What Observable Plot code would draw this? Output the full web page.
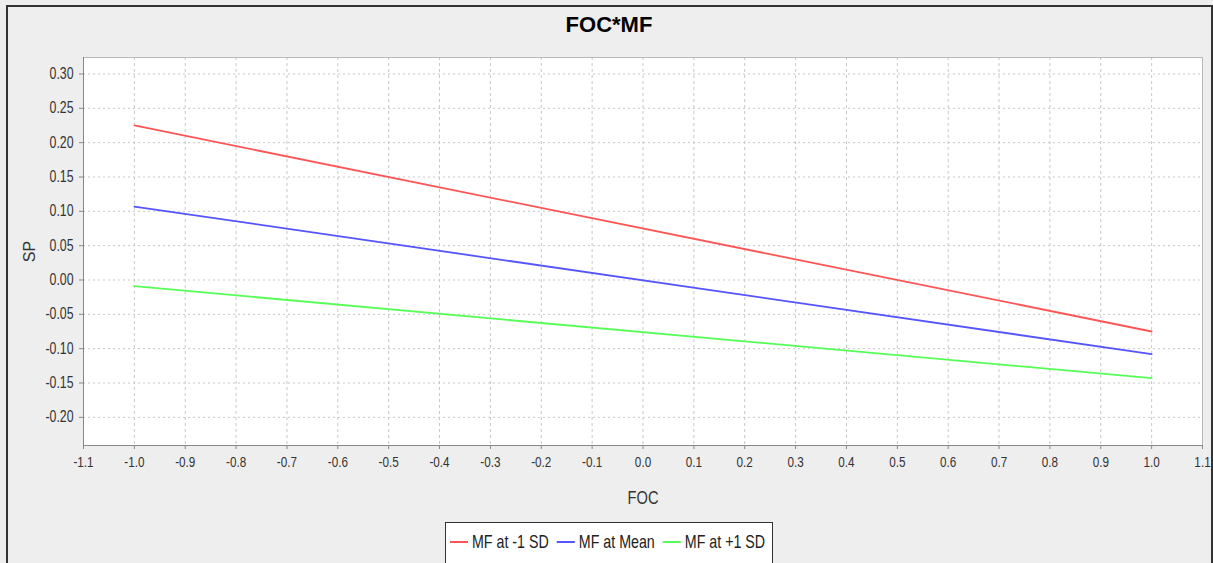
<!DOCTYPE html>
<html><head><meta charset="utf-8">
<script src="https://cdn.jsdelivr.net/npm/d3@7"></script>
<script src="https://cdn.jsdelivr.net/npm/@observablehq/plot@0.6"></script>
<style>
body{margin:0;background:#fff;}
#chart{position:relative;width:1213px;height:563px;background:#eeeeee;overflow:hidden;font-family:"Liberation Sans",Arial,sans-serif;}
#border{position:absolute;left:6px;top:5px;width:1207px;height:620px;box-sizing:border-box;border:2px solid #333;}
#title{position:absolute;left:0;top:14px;width:1218px;text-align:center;font:bold 22px "Liberation Sans",Arial,sans-serif;line-height:22px;color:#000;}
#plot{position:absolute;left:0;top:0;}
#legend{position:absolute;left:445px;top:522px;overflow:visible;}
</style>
</head><body>
<div id="chart">
  <div id="border"></div>
  <div id="title">FOC*MF</div>
  <div id="plot"></div>
  <svg id="legend" width="400" height="42"></svg>
</div>
<script>
// data
const foc = [-1.0, 1.0];
const seriesNames = ["MF at -1 SD", "MF at Mean", "MF at +1 SD"];
const spLow = [0.225, -0.075];
const spMean = [0.107, -0.108];
const spHigh = [-0.009, -0.143];
const seriesColors = ["#ff5555", "#5555ff", "#55ff55"];
const xTicks = [-1.1, -1.0, -0.9, -0.8, -0.7, -0.6, -0.5, -0.4, -0.3, -0.2, -0.1, 0.0, 0.1, 0.2, 0.3, 0.4, 0.5, 0.6, 0.7, 0.8, 0.9, 1.0, 1.1];
const yTicks = [-0.20, -0.15, -0.10, -0.05, 0.00, 0.05, 0.10, 0.15, 0.20, 0.25, 0.30];
const xDomain = [-1.1, 1.1];
const yDomain = [-0.241, 0.324];

const spBySeries = [spLow, spMean, spHigh];
const rows = seriesNames.flatMap((s, i) => foc.map((x, j) => ({series: s, foc: x, sp: spBySeries[i][j]})));

const SQUEEZE = 0.77;
function squeeze(el, k) {
  const L = el.getComputedTextLength();
  el.setAttribute("textLength", (L * k).toFixed(2));
  el.setAttribute("lengthAdjust", "spacingAndGlyphs");
}

const plot = Plot.plot({
  width: 1213, height: 510,
  marginLeft: 83, marginRight: 11, marginTop: 57, marginBottom: 65,
  style: {background: "transparent", fontFamily: '"Liberation Sans",Arial,sans-serif', fontSize: "16px", color: "#333", overflow: "visible"},
  x: {domain: xDomain},
  y: {domain: yDomain},
  color: {domain: seriesNames, range: seriesColors},
  marks: [
    Plot.frame({fill: "white", stroke: null}),
    Plot.gridX(xTicks, {stroke: "#c8c8c8", strokeOpacity: 1, strokeDasharray: "3,3"}),
    Plot.gridY(yTicks, {stroke: "#c8c8c8", strokeOpacity: 1, strokeDasharray: "2,3"}),
    Plot.line(rows, {x: "foc", y: "sp", z: "series", stroke: "series", strokeWidth: 1.8}),
    Plot.frame({stroke: "#b8b8b8"}),
    Plot.ruleX([xDomain[0]], {stroke: "#888"}),
    Plot.ruleY([yDomain[0]], {stroke: "#888"}),
    Plot.axisX(xTicks, {tickFormat: d => d.toFixed(1), tickSize: 4, tickPadding: 7, stroke: "#888", fill: "#333",
      label: "FOC", labelAnchor: "center", labelOffset: 58, labelArrow: "none"}),
    Plot.axisY(yTicks, {tickFormat: d => d.toFixed(2), tickSize: 4, tickPadding: 6, stroke: "#888", fill: "#333",
      label: "SP", labelAnchor: "center", labelOffset: 60, labelArrow: "none"})
  ]
});
document.getElementById("plot").appendChild(plot);

const svg = d3.select(plot);
svg.selectAll('g[aria-label="x-axis label"] text').attr("font-size", "19px");
svg.selectAll('g[aria-label="y-axis label"] text').attr("font-size", "16px");
svg.selectAll('g[aria-label="x-axis tick label"] text').attr("font-size", "15px")
  .each(function() { squeeze(this, 0.78); });
svg.selectAll('g[aria-label="y-axis tick label"] text, g[aria-label="x-axis label"] text')
  .each(function() { squeeze(this, SQUEEZE); });

// legend
const lg = d3.select("#legend");
lg.append("rect").attr("x", 0.5).attr("y", 0.5).attr("width", 327).attr("height", 41)
  .attr("fill", "#fff").attr("stroke", "#333");
let cx = 5;
seriesNames.forEach((name, i) => {
  lg.append("line").attr("x1", cx).attr("x2", cx + 18).attr("y1", 20).attr("y2", 20)
    .attr("stroke", seriesColors[i]).attr("stroke-width", 2);
  cx += 22;
  const t = lg.append("text").attr("x", cx).attr("y", 26).attr("font-size", "18.5px")
    .attr("fill", "#222").text(name);
  squeeze(t.node(), SQUEEZE);
  cx += +t.attr("textLength") + 8;
});
</script>
</body></html>
